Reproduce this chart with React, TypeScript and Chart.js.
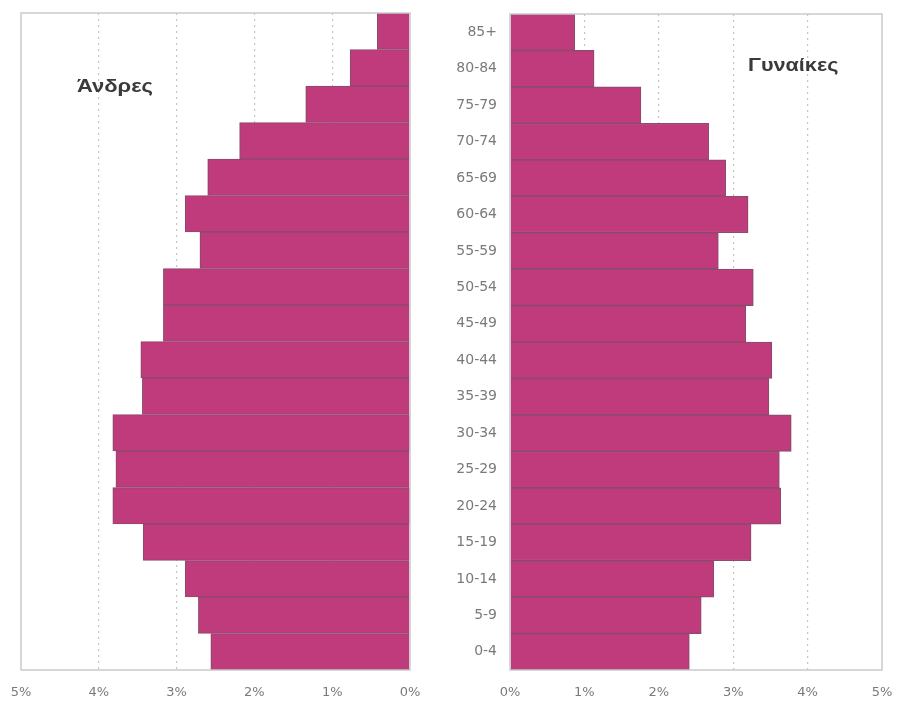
import React, { useEffect, useRef } from "react";
import { Chart, registerables } from "chart.js";

Chart.register(...registerables);

const ageGroups = ["85+", "80-84", "75-79", "70-74", "65-69", "60-64", "55-59", "50-54", "45-49", "40-44", "35-39", "30-34", "25-29", "20-24", "15-19", "10-14", "5-9", "0-4"];
const maleValues = [0.42, 0.77, 1.34, 2.19, 2.6, 2.89, 2.7, 3.17, 3.17, 3.46, 3.44, 3.82, 3.78, 3.82, 3.43, 2.89, 2.72, 2.56];
const femaleValues = [0.87, 1.13, 1.76, 2.67, 2.9, 3.2, 2.8, 3.27, 3.17, 3.52, 3.48, 3.78, 3.62, 3.64, 3.24, 2.74, 2.57, 2.41];
const maleTitle = "Άνδρες";
const femaleTitle = "Γυναίκες";

const BAR_FILL = "#c03b7b";
const BAR_BORDER = "#8c4a6e";
const GRID = "#c4c4c4";
const FRAME = "#cacaca";
const TICK = "#7a7a7a";
const FONT = "'Liberation Sans', Arial, sans-serif";
const TICK_FONT = "'DejaVu Sans', sans-serif";

const framePlugin = {
  id: "frame",
  afterDraw(chart: any) {
    const { ctx, chartArea } = chart;
    ctx.save();
    ctx.strokeStyle = FRAME;
    ctx.lineWidth = 1.5;
    ctx.strokeRect(chartArea.left, chartArea.top, chartArea.right - chartArea.left, chartArea.bottom - chartArea.top);
    ctx.restore();
  },
};

function makeOptions(reverse: boolean, showY: boolean, pad: any) {
  return {
    responsive: false,
    animation: false,
    indexAxis: "y",
    layout: { padding: pad },
    plugins: { legend: { display: false }, tooltip: { enabled: false } },
    scales: {
      x: {
        reverse,
        min: 0,
        max: 5,
        ticks: {
          stepSize: 1,
          color: TICK,
          font: { family: TICK_FONT, size: 13 },
          padding: 0,
          callback: (v: any) => v + "%",
        },
        grid: {
          drawTicks: true,
          tickLength: 15,
          tickColor: "rgba(0,0,0,0)",
          lineWidth: 1.2,
          color: (c: any) => (c.tick && (c.tick.value === 0 || c.tick.value === 5) ? "rgba(0,0,0,0)" : GRID),
        },
        border: { display: false, dash: [2, 4] },
        afterFit: (scale: any) => {
          scale.height = 34;
        },
      },
      y: {
        display: showY,
        grid: { display: false, drawTicks: true, tickLength: 13, tickColor: "rgba(0,0,0,0)" },
        border: { display: false },
        ticks: {
          color: TICK,
          font: { family: TICK_FONT, size: 14 },
          padding: 0,
        },
        afterFit: (scale: any) => {
          if (showY) scale.width = 70;
        },
      },
    },
  };
}

export default function App() {
  const leftRef = useRef<HTMLCanvasElement>(null);
  const rightRef = useRef<HTMLCanvasElement>(null);

  useEffect(() => {
    const left = new Chart(leftRef.current!, {
      type: "bar",
      data: {
        labels: ageGroups,
        datasets: [
          {
            data: maleValues,
            backgroundColor: BAR_FILL,
            borderColor: BAR_BORDER,
            borderWidth: 1.2,
            barPercentage: 1,
            categoryPercentage: 1,
          },
        ],
      },
      options: makeOptions(true, false, { left: 21, right: 30, top: 13, bottom: 0 }) as any,
      plugins: [framePlugin],
    });
    const right = new Chart(rightRef.current!, {
      type: "bar",
      data: {
        labels: ageGroups,
        datasets: [
          {
            data: femaleValues,
            backgroundColor: BAR_FILL,
            borderColor: BAR_BORDER,
            borderWidth: 1.2,
            barPercentage: 1,
            categoryPercentage: 1,
          },
        ],
      },
      options: makeOptions(false, true, { left: 0, right: 16, top: 14, bottom: 0 }) as any,
      plugins: [framePlugin],
    });
    return () => {
      left.destroy();
      right.destroy();
    };
  }, []);

  const titleStyle: React.CSSProperties = {
    position: "absolute",
    fontFamily: FONT,
    fontWeight: "bold",
    fontSize: 18,
    color: "#3a3a3a",
    whiteSpace: "nowrap",
    lineHeight: "20px",
    transform: "scaleX(1.22)",
    transformOrigin: "left center",
  };

  return (
    <div style={{ position: "absolute", left: 0, top: 0, width: 898, height: 704, background: "#fff" }}>
      <canvas ref={leftRef} width={440} height={704} style={{ position: "absolute", left: 0, top: 0 }} />
      <canvas ref={rightRef} width={458} height={704} style={{ position: "absolute", left: 440, top: 0 }} />
      <div style={{ ...titleStyle, left: 77, top: 76 }}>{maleTitle}</div>
      <div style={{ ...titleStyle, left: 748, top: 55, transform: "scaleX(1.2)" }}>{femaleTitle}</div>
    </div>
  );
}
